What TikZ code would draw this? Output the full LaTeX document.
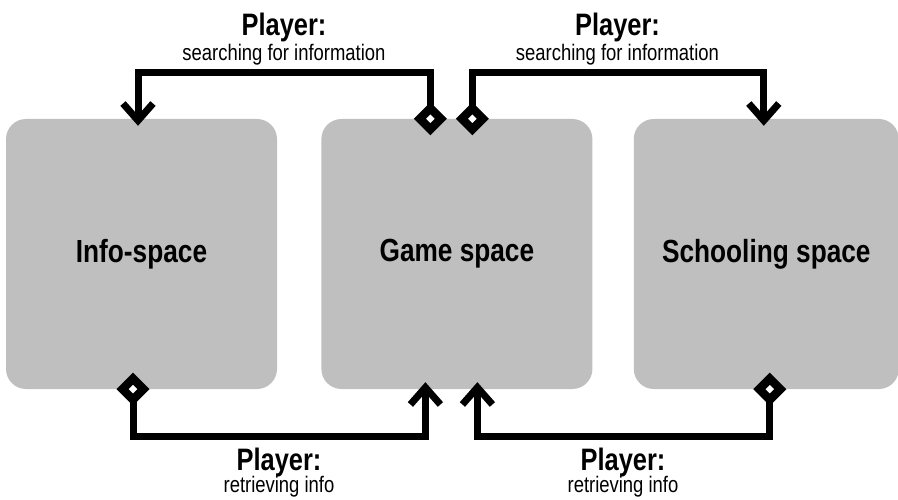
\documentclass[tikz,border=0pt]{standalone}
\usepackage{fontspec}
\setmainfont{Liberation Sans}[FakeStretch=0.82]
\usepackage{tikz}
\usetikzlibrary{arrows.meta, positioning, shapes.geometric}

\tikzset{
  spacebox/.style={rectangle, rounded corners=20pt, fill=black!25, minimum width=271pt, minimum height=270pt, inner sep=0pt, font=\bfseries\fontsize{32}{36}\selectfont},
  tap/.style={diamond, draw, fill=white, line width=8.5pt, minimum width=21pt, minimum height=21pt, inner sep=0pt, outer sep=0pt},
  link/.style={line width=7pt, -{Straight Barb[length=17pt, width=30pt]}},
  who/.style={anchor=base, font=\bfseries\fontsize{31}{34}\selectfont},
  what/.style={anchor=base, font=\fontsize{22.5}{26}\selectfont}
}

\begin{document}
\begin{tikzpicture}[x=1pt, y=1pt]
  \useasboundingbox (0,0) rectangle (898,499);

  % the three spaces
  \node (info) [spacebox] at (141.5,245) {Info-space};
  \node (game) [spacebox, right=44pt of info] {Game space};
  \node (school) [spacebox, right=41pt of game, minimum width=265pt] {Schooling space};

  % searching (top)
  \draw[link] ([xshift=-26.5pt]game.north) -- ++(0,46) -| ([xshift=-3.5pt, yshift=-7pt]info.north);
  \draw[link] ([xshift=15.5pt]game.north) -- ++(0,46) -| ([xshift=-2.5pt, yshift=-7pt]school.north);
  \node (tap1) [tap] at ([xshift=-26.5pt]game.north) {};
  \node (tap2) [tap] at ([xshift=15.5pt]game.north) {};

  % retrieving (bottom)
  \draw[link] ([xshift=-8.5pt]info.south) -- ++(0,-47) -| ([xshift=-31.5pt, yshift=7pt]game.south);
  \draw[link] ([xshift=3.5pt]school.south) -- ++(0,-47) -| ([xshift=20.5pt, yshift=7pt]game.south);
  \node (tap3) [tap] at ([xshift=-8.5pt]info.south) {};
  \node (tap4) [tap] at ([xshift=3.5pt]school.south) {};

  % labels
  \node (who1) [who] at (284,463) {Player:};
  \node (what1) [what] at (284,438) {searching for information};
  \node (who2) [who] at (617.5,463) {Player:};
  \node (what2) [what] at (617.5,438) {searching for information};
  \node (who3) [who] at (279,29) {Player:};
  \node (what3) [what] at (279,7) {retrieving info};
  \node (who4) [who] at (623,29) {Player:};
  \node (what4) [what] at (623,7) {retrieving info};
\end{tikzpicture}
\end{document}
